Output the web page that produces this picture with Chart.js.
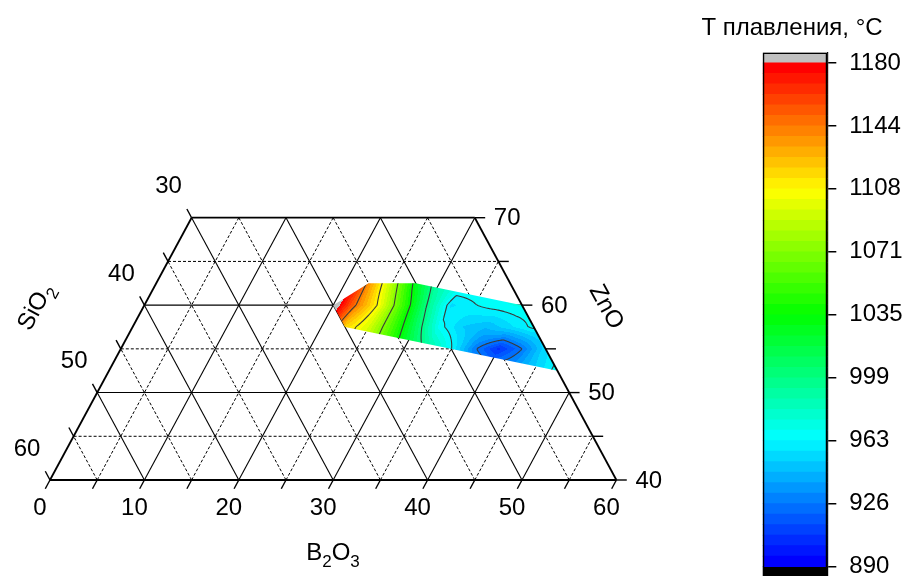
<!DOCTYPE html>
<html>
<head>
<meta charset="utf-8">
<script src="https://cdn.jsdelivr.net/npm/chart.js@4.4.1/dist/chart.umd.min.js"></script>
<style>
  html, body { margin: 0; padding: 0; background: #fff; }
  #wrap { position: relative; width: 909px; height: 576px; overflow: hidden; }
  #tern { position: absolute; left: 0; top: 0; }
  #bar { position: absolute; left: 681px; top: 0; }
</style>
</head>
<body>
<div id="wrap">
  <canvas id="tern" width="681" height="576"></canvas>
  <canvas id="bar" width="228" height="576"></canvas>
</div>
<script>
// labelled ticks on the three sides, mol %
const b2o3Ticks = [0, 10, 20, 30, 40, 50, 60];
const sio2Ticks = [30, 40, 50, 60];
const znoTicks = [40, 50, 60, 70];

// every 5 mol %: grid lines and tick marks (multiples of 10 solid, the rest dashed)
const gridB2O3 = [5, 10, 15, 20, 25, 30, 35, 40, 45, 50, 55];
const gridSiO2 = [5, 10, 15, 20, 25, 30, 35, 40, 45, 50, 55];
const gridZnO = [45, 50, 55, 60, 65];
const tickB2O3 = [0, 5, 10, 15, 20, 25, 30, 35, 40, 45, 50, 55, 60];
const tickSiO2 = [30, 35, 40, 45, 50, 55, 60];
const tickZnO = [40, 45, 50, 55, 60, 65, 70];

// studied composition field (outline), B2O3 / ZnO pairs
const hullB2O3 = [20, 22.5, 27.5, 40, 47.5, 22.5];
const hullZnO = [60, 62.5, 62.5, 60, 52.5, 57.5];

// melting temperature, °C, on a 2.5 mol % mesh
const meshB2O3 = [20, 22.5, 25, 27.5, 30, 32.5, 35, 37.5, 40, 42.5, 45, 47.5];
const meshZnO = [52.5, 55, 57.5, 60, 62.5];
const tZnO525 = [1160, 1130, 1100, 1065, 1030, 992, 970, 950, 935, 935, 950, 967];
const tZnO550 = [1160, 1122, 1095, 1060, 1023, 992, 963, 928, 906, 926, 955, 966];
const tZnO575 = [1190, 1118, 1095, 1055, 1010, 966, 950, 945, 955, 965, 966, 966];
const tZnO600 = [1195, 1142, 1102, 1049, 997, 955, 962, 967, 970, 970, 970, 970];
const tZnO625 = [1200, 1138, 1085, 1028, 985, 972, 971, 972, 975, 977, 978, 978];
const meshT = [tZnO525, tZnO550, tZnO575, tZnO600, tZnO625];

// isotherms and colour scale
const isoLevels = [926.25, 962.5, 998.75, 1035, 1071.25, 1107.5, 1143.75];
const cbTicks = [890, 926.25, 962.5, 998.75, 1035, 1071.25, 1107.5, 1143.75, 1180];
const tLow = 890, tHigh = 1180;
const cbMin = 884.6, cbMax = 1186;
const bandCount = 48;

const FONT = '"Liberation Sans", Arial, sans-serif';

// ternary point -> cartesian (x along the ZnO = 40 base, y = ZnO)
const tern = (b, z) => ({ x: b + (z - 40) / 2, y: z });

function rainbow(f) {
  const stops = [[0, 0, 255], [0, 255, 255], [0, 255, 0], [255, 255, 0], [255, 0, 0]];
  const s = Math.min(Math.max(f, 0), 1) * 4;
  const k = Math.min(Math.floor(s), 3), t = s - k;
  return [0, 1, 2].map(n => Math.round(stops[k][n] + (stops[k + 1][n] - stops[k][n]) * t));
}

function bandColor(T) {
  if (T > tHigh) return [192, 192, 192];
  if (T < tLow) return [0, 0, 0];
  const i = Math.min(Math.floor((T - tLow) / (tHigh - tLow) * bandCount), bandCount - 1);
  return rainbow(i / (bandCount - 1));
}

function tempAt(b, z) {
  const nb = meshB2O3.length, nz = meshZnO.length;
  let fi = (b - meshB2O3[0]) / (meshB2O3[1] - meshB2O3[0]);
  let fj = (z - meshZnO[0]) / (meshZnO[1] - meshZnO[0]);
  fi = Math.min(Math.max(fi, 0), nb - 1.0001);
  fj = Math.min(Math.max(fj, 0), nz - 1.0001);
  const i = Math.floor(fi), j = Math.floor(fj), di = fi - i, dj = fj - j;
  const r0 = meshT[j], r1 = meshT[j + 1];
  const lo = r0[i] * (1 - di) + r0[i + 1] * di;
  const hi = r1[i] * (1 - di) + r1[i + 1] * di;
  return lo * (1 - dj) + hi * dj;
}

// --- ternary grid as line datasets -------------------------------------
const seg = (p, q, extra) => Object.assign({
  data: [p, q], showLine: true, borderColor: '#000', borderWidth: 1,
  pointRadius: 0, fill: false
}, extra || {});

const datasets = [];
// outer frame and tick marks first so they end up drawn on top
datasets.push(seg(tern(0, 40), tern(60, 40), { borderWidth: 1.8, frame: true }));
datasets.push(seg(tern(0, 40), tern(0, 70), { borderWidth: 1.8, frame: true }));
datasets.push(seg(tern(0, 70), tern(30, 70), { borderWidth: 1.8, frame: true }));
datasets.push(seg(tern(60, 40), tern(30, 70), { borderWidth: 1.8, frame: true }));
tickB2O3.forEach(b => datasets.push(seg(tern(b, 40), tern(b, 39), { borderWidth: 1.4, frame: true })));
tickSiO2.forEach(s => datasets.push(seg(tern(0, 100 - s), tern(-1, 101 - s), { borderWidth: 1.4, frame: true })));
tickZnO.forEach(z => datasets.push(seg(tern(100 - z, z), tern(101.1 - z, z), { borderWidth: 1.4, frame: true })));

const dash = v => (v % 10 === 0 ? { borderWidth: 1.1 } : { borderDash: [3, 2], borderWidth: 1 });
gridZnO.forEach(z => datasets.push(seg(tern(0, z), tern(100 - z, z), dash(z))));
gridB2O3.forEach(b => datasets.push(seg(tern(b, 40), b <= 30 ? tern(b, 70) : tern(b, 100 - b), dash(b))));
gridSiO2.forEach(s => datasets.push(seg(tern(60 - s, 40), s >= 30 ? tern(0, 100 - s) : tern(30 - s, 70), dash(s))));

// --- filled isotherm map --------------------------------------------------
function drawField(chart) {
  const ctx = chart.ctx, xs = chart.scales.x, ys = chart.scales.y;
  const pts = hullB2O3.map((b, k) => {
    const p = tern(b, hullZnO[k]);
    return [xs.getPixelForValue(p.x), ys.getPixelForValue(p.y)];
  });
  const x0 = Math.floor(Math.min(...pts.map(p => p[0]))) - 2;
  const x1 = Math.ceil(Math.max(...pts.map(p => p[0]))) + 2;
  const y0 = Math.floor(Math.min(...pts.map(p => p[1]))) - 2;
  const y1 = Math.ceil(Math.max(...pts.map(p => p[1]))) + 2;
  const w = x1 - x0 + 1, h = y1 - y0 + 1;

  const T = new Float32Array(w * h);
  for (let j = 0; j < h; j++) {
    const z = ys.getValueForPixel(y0 + j + 0.5);
    for (let i = 0; i < w; i++) {
      const u = xs.getValueForPixel(x0 + i + 0.5);
      T[j * w + i] = tempAt(u - (z - 40) / 2, z);
    }
  }

  const off = document.createElement('canvas');
  off.width = w; off.height = h;
  const octx = off.getContext('2d');
  const img = octx.createImageData(w, h);
  for (let k = 0; k < w * h; k++) {
    const c = bandColor(T[k]);
    img.data[k * 4] = c[0]; img.data[k * 4 + 1] = c[1];
    img.data[k * 4 + 2] = c[2]; img.data[k * 4 + 3] = 255;
  }
  octx.putImageData(img, 0, 0);

  ctx.save();
  ctx.beginPath();
  pts.forEach((p, k) => (k ? ctx.lineTo(p[0], p[1]) : ctx.moveTo(p[0], p[1])));
  ctx.closePath();
  ctx.clip();
  ctx.drawImage(off, x0, y0);

  // isotherms, marching squares over the pixel mesh
  ctx.beginPath();
  isoLevels.forEach(L => {
    for (let j = 0; j < h - 1; j++) {
      for (let i = 0; i < w - 1; i++) {
        const a = T[j * w + i], b = T[j * w + i + 1];
        const c = T[(j + 1) * w + i + 1], d = T[(j + 1) * w + i];
        const X = x0 + i + 0.5, Y = y0 + j + 0.5;
        const hits = [];
        if ((a < L) !== (b < L)) hits.push([X + (L - a) / (b - a), Y]);
        if ((b < L) !== (c < L)) hits.push([X + 1, Y + (L - b) / (c - b)]);
        if ((d < L) !== (c < L)) hits.push([X + (L - d) / (c - d), Y + 1]);
        if ((a < L) !== (d < L)) hits.push([X, Y + (L - a) / (d - a)]);
        for (let k = 0; k + 1 < hits.length; k += 2) {
          ctx.moveTo(hits[k][0], hits[k][1]);
          ctx.lineTo(hits[k + 1][0], hits[k + 1][1]);
        }
      }
    }
  });
  ctx.strokeStyle = '#3a3a3a';
  ctx.lineWidth = 1.1;
  ctx.stroke();
  ctx.restore();
}

const fieldPlugin = {
  id: 'meltField',
  beforeDatasetsDraw(chart) { chart.$fieldDone = false; },
  beforeDatasetDraw(chart, args) {
    if (!chart.$fieldDone && chart.data.datasets[args.index].frame) {
      drawField(chart);
      chart.$fieldDone = true;
    }
  }
};

// chemical formula with subscript digits
function formula(ctx, text, cx, cy, angle) {
  const big = '24px ' + FONT, small = '17px ' + FONT;
  const parts = text.split('').map(ch => [ch, /\d/.test(ch)]);
  let w = 0;
  parts.forEach(([t, sub]) => { ctx.font = sub ? small : big; w += ctx.measureText(t).width; });
  ctx.save();
  ctx.translate(cx, cy);
  ctx.rotate(angle * Math.PI / 180);
  ctx.textAlign = 'left';
  ctx.textBaseline = 'middle';
  let x = -w / 2;
  parts.forEach(([t, sub]) => {
    ctx.font = sub ? small : big;
    ctx.fillText(t, x, sub ? 9 : 0);
    x += ctx.measureText(t).width;
  });
  ctx.restore();
}

const labelPlugin = {
  id: 'ternLabels',
  afterDraw(chart) {
    const ctx = chart.ctx, xs = chart.scales.x, ys = chart.scales.y;
    const px = (b, z) => { const p = tern(b, z); return [xs.getPixelForValue(p.x), ys.getPixelForValue(p.y)]; };
    ctx.save();
    ctx.fillStyle = '#000';
    ctx.font = '24px ' + FONT;
    ctx.textBaseline = 'middle';
    ctx.textAlign = 'center';
    b2o3Ticks.forEach(b => { const p = px(b, 40); ctx.fillText(String(b), p[0] - 10, p[1] + 28); });
    sio2Ticks.forEach(s => { const p = px(0, 100 - s); ctx.fillText(String(s), p[0] - 23, p[1] - 31); });
    ctx.textAlign = 'left';
    znoTicks.forEach(z => { const p = px(100 - z, z); ctx.fillText(String(z), p[0] + 19, p[1] + 1); });
    ctx.restore();
    formula(ctx, 'B2O3', 333, 553, 0);
    formula(ctx, 'SiO2', 36, 307, -61.6);
    formula(ctx, 'ZnO', 606, 307, 61.5);
  }
};

// plot placement: ZnO = 40 base starts at (50, 480), 9.44 px per mol % along it, 8.743 px per mol % ZnO
const baseX = 50, baseY = 480, unitX = 9.44, unitY = 8.743;
const ternCanvas = document.getElementById('tern');

new Chart(ternCanvas, {
  type: 'scatter',
  data: { datasets },
  options: {
    responsive: false,
    animation: false,
    devicePixelRatio: 1,
    events: [],
    layout: { padding: 0 },
    plugins: { legend: { display: false }, tooltip: { enabled: false } },
    elements: { point: { radius: 0, hoverRadius: 0 }, line: { tension: 0 } },
    scales: {
      x: { type: 'linear', display: false, min: -baseX / unitX, max: (ternCanvas.width - baseX) / unitX },
      y: { type: 'linear', display: false, min: 40 - (ternCanvas.height - baseY) / unitY, max: 40 + baseY / unitY }
    }
  },
  plugins: [fieldPlugin, labelPlugin]
});

// --- colour bar -------------------------------------------------------------
const step = (tHigh - tLow) / bandCount;
const barSets = [];
barSets.push({ data: [[cbMin, cbMax]], backgroundColor: 'rgba(0,0,0,0)', borderColor: '#000',
  borderWidth: 1.2, borderSkipped: false, grouped: false });
for (let i = 0; i < bandCount; i++) {
  const c = rainbow(i / (bandCount - 1));
  barSets.push({ data: [[tLow + i * step, tLow + (i + 1) * step]],
    backgroundColor: `rgb(${c[0]},${c[1]},${c[2]})`, borderWidth: 0, grouped: false });
}
barSets.push({ data: [[tHigh, cbMax]], backgroundColor: 'rgb(192,192,192)', borderWidth: 0, grouped: false });
barSets.push({ data: [[cbMin, tLow]], backgroundColor: '#000', borderWidth: 0, grouped: false });

// caption centred over the bar
const barTitle = {
  id: 'barTitle',
  afterDraw(chart) {
    const { ctx, chartArea } = chart;
    ctx.save();
    ctx.fillStyle = '#000';
    ctx.font = '24px ' + FONT;
    ctx.textAlign = 'center';
    ctx.textBaseline = 'middle';
    ctx.fillText('T плавления, °C', (chartArea.left + chartArea.right) / 2 - 3, 28);
    ctx.restore();
  }
};

new Chart(document.getElementById('bar'), {
  type: 'bar',
  data: { labels: [''], datasets: barSets },
  options: {
    responsive: false,
    animation: false,
    devicePixelRatio: 1,
    events: [],
    layout: { padding: { left: 81.7, right: 0, top: 52.5, bottom: 0 } },
    datasets: { bar: { barPercentage: 1, categoryPercentage: 1 } },
    plugins: { legend: { display: false }, tooltip: { enabled: false } },
    scales: {
      x: { display: false },
      y: {
        position: 'right', min: cbMin, max: cbMax,
        afterBuildTicks: s => { s.ticks = cbTicks.map(v => ({ value: v })); },
        afterFit: s => { s.width = 81.7; s.paddingTop = 0; s.paddingBottom = 0; },
        ticks: { callback: v => String(Math.round(v)), color: '#000', padding: 13,
          font: { family: FONT, size: 24 } },
        grid: { drawOnChartArea: false, drawTicks: true, tickLength: 9, color: '#000', lineWidth: 1.5 },
        border: { display: true, color: '#000', width: 1.2 }
      }
    }
  },
  plugins: [barTitle]
});
</script>
</body>
</html>
